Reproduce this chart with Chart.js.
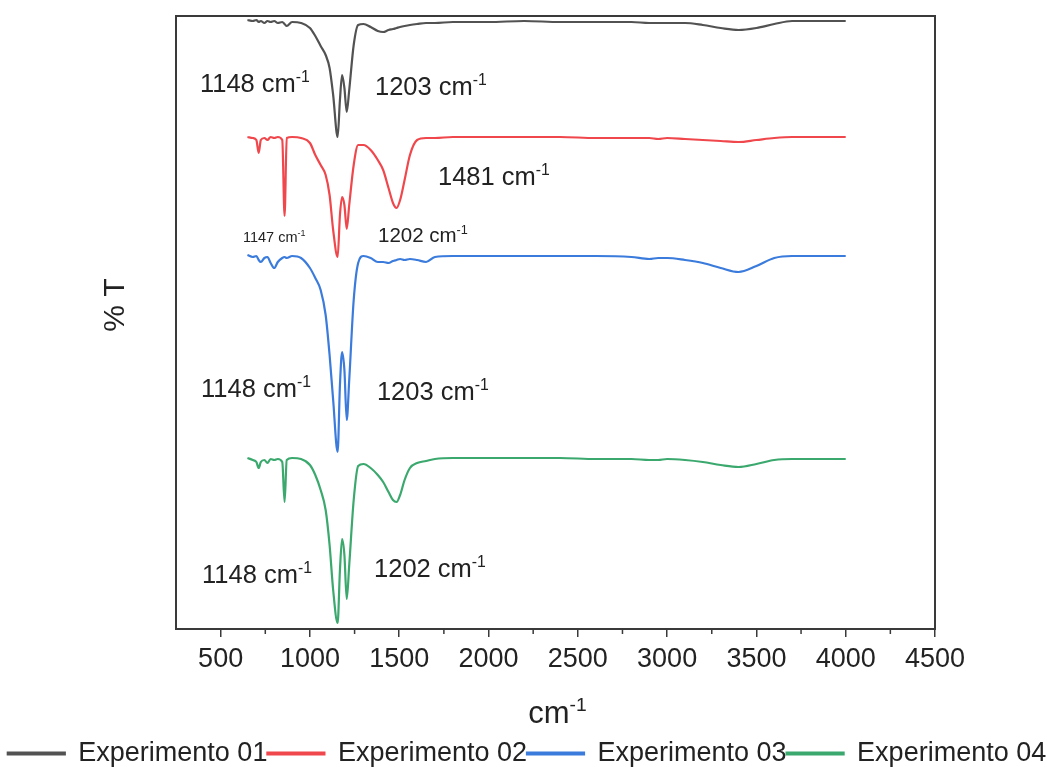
<!DOCTYPE html>
<html>
<head>
<meta charset="utf-8">
<script src="https://cdn.jsdelivr.net/npm/chart.js@4.4.1/dist/chart.umd.min.js"></script>
<style>
  html, body { margin: 0; padding: 0; background: #fff; }
  #wrap { width: 1054px; height: 767px; }
</style>
</head>
<body>
<div id="wrap"><canvas id="ftir"></canvas></div>
<script>
// wavenumber grid (cm-1), shared by the four spectra
const wavenumbers = [650, 680, 700, 713, 725, 745, 762, 780, 800, 820, 845, 858, 870, 900, 950,
  1000, 1030, 1060, 1088, 1110, 1130, 1155, 1168, 1180, 1193, 1206, 1220, 1245, 1270, 1300,
  1340, 1380, 1410, 1440, 1465, 1485, 1505, 1530, 1560, 1600, 1650, 1700, 1800, 2000, 2200,
  2400, 2600, 2800, 2900, 2950, 3000, 3100, 3200, 3300, 3400, 3500, 3600, 3700, 3800, 4000];

// %T (stacked / offset, arbitrary units)
const exp01 = [609, 608, 609, 607, 608, 606, 608, 607, 608, 606, 607, 605, 603, 607, 606,
  601, 593, 583, 574, 561, 534, 492, 529, 554, 541, 517, 539, 584, 604, 605,
  602, 598, 597, 599, 600, 601, 602, 603, 604, 605, 606, 606, 607, 607, 608,
  607, 607, 607, 606, 606, 606, 606, 604, 601, 599, 601, 605, 608, 608, 608];
const exp02 = [492, 491, 489, 476, 489, 491, 489, 492, 491, 492, 489, 413, 491, 492, 491,
  486, 474, 464, 454, 434, 399, 372, 414, 432, 424, 400, 424, 464, 484, 484,
  479, 469, 459, 441, 426, 421, 429, 449, 474, 489, 491, 491, 492, 492, 492,
  492, 491, 491, 491, 490, 491, 490, 489, 488, 487, 489, 491, 492, 492, 492];
const exp03 = [374, 372, 373, 369, 367, 371, 372, 366, 361, 367, 371, 372, 371, 373, 371,
  361, 351, 339, 314, 274, 229, 177, 244, 277, 259, 209, 249, 329, 366, 373,
  371, 367, 367, 366, 368, 369, 370, 369, 370, 369, 367, 372, 373, 373, 373,
  373, 373, 372, 370, 371, 371, 369, 366, 361, 357, 363, 371, 373, 373, 373];
const exp04 = [171, 169, 167, 161, 167, 169, 166, 170, 169, 170, 167, 127, 169, 171, 170,
  164, 154, 139, 119, 84, 39, 6, 59, 90, 74, 30, 64, 129, 163, 165,
  161, 154, 147, 137, 129, 127, 134, 149, 161, 166, 168, 170, 171, 171, 171,
  171, 170, 170, 169, 169, 170, 169, 167, 164, 162, 165, 169, 170, 170, 170];

const seriesNames = ["Experimento 01", "Experimento 02", "Experimento 03", "Experimento 04"];
const seriesValues = [exp01, exp02, exp03, exp04];
const seriesColors = ["#525252", "#ef474c", "#3a7bdc", "#3ba86e"];

const xMin = 250, xMax = 4500;
const majorTicks = [500, 1000, 1500, 2000, 2500, 3000, 3500, 4000, 4500];
const minorTicks = [750, 1250, 1750, 2250, 2750, 3250, 3750, 4250];
const yMin = 0, yMax = 613;

// peak labels: number, left edge (cm-1), baseline (%T units), font size
const peakText = ["1148", "1203", "1481", "1147", "1202", "1148", "1203", "1148", "1202"];
const peakX = [384, 1364, 1717, 625, 1381, 390, 1375, 396, 1359];
const peakY = [537, 534, 444, 387, 387, 232, 229, 46, 52];
const peakSize = [25.5, 25.5, 25.5, 14.5, 20.5, 25.5, 25.5, 25.5, 25.5];

const FONT = '"Liberation Sans", Arial, sans-serif';
const INK = "#222";
const AXIS = "#3a3a3a";

function drawSup(ctx, base, sup, x, y, size, align) {
  ctx.font = `${size}px ${FONT}`;
  const w1 = ctx.measureText(base).width;
  ctx.font = `${size * 0.62}px ${FONT}`;
  const w2 = ctx.measureText(sup).width;
  const x0 = align === "center" ? x - (w1 + w2) / 2 : x;
  ctx.textAlign = "left";
  ctx.textBaseline = "alphabetic";
  ctx.font = `${size}px ${FONT}`;
  ctx.fillText(base, x0, y);
  ctx.font = `${size * 0.62}px ${FONT}`;
  ctx.fillText(sup, x0 + w1, y - size * 0.4);
}

const textPlugin = {
  id: "ftirText",
  afterDatasetsDraw(chart) {
    const { ctx, chartArea, scales } = chart;
    const xs = scales.x, ys = scales.y;
    ctx.save();
    ctx.fillStyle = INK;
    for (let i = 0; i < peakText.length; i++) {
      drawSup(ctx, peakText[i] + " cm", "-1", xs.getPixelForValue(peakX[i]),
        ys.getPixelForValue(peakY[i]), peakSize[i], "left");
    }
    // axis titles
    drawSup(ctx, "cm", "-1", (chartArea.left + chartArea.right) / 2 + 2, 723, 31, "center");
    ctx.save();
    ctx.translate(116, 305);
    ctx.rotate(-Math.PI / 2);
    ctx.font = `30px ${FONT}`;
    ctx.textAlign = "center";
    ctx.textBaseline = "middle";
    ctx.fillText("% T", 0, 0);
    ctx.restore();

    // minor ticks
    ctx.strokeStyle = AXIS;
    ctx.lineWidth = 1.5;
    ctx.beginPath();
    for (const v of minorTicks) {
      const px = xs.getPixelForValue(v);
      ctx.moveTo(px, chartArea.bottom);
      ctx.lineTo(px, chartArea.bottom + 5);
    }
    ctx.stroke();
    ctx.restore();
  }
};

const datasets = seriesNames.map((name, i) => ({
  label: name,
  data: wavenumbers.map((w, j) => ({ x: w, y: seriesValues[i][j] })),
  borderColor: seriesColors[i],
  backgroundColor: seriesColors[i],
  borderWidth: 2.2,
  pointRadius: 0,
  cubicInterpolationMode: "monotone",
  xAxisID: "x",
  yAxisID: "y",
}));

new Chart(document.getElementById("ftir"), {
  type: "line",
  data: { datasets },
  options: {
    responsive: true,
    maintainAspectRatio: false,
    animation: false,
    layout: { padding: { left: 0, right: 0, top: 0, bottom: -10 } },
    scales: {
      x: {
        type: "linear",
        position: "bottom",
        min: xMin,
        max: xMax,
        afterBuildTicks: (s) => { s.ticks = majorTicks.map((v) => ({ value: v })); },
        afterFit: (s) => { s.height = 111; },
        ticks: {
          autoSkip: false,
          maxRotation: 0,
          padding: 6,
          color: INK,
          font: { family: FONT, size: 27 },
          callback: (v) => String(v),
        },
        grid: { drawOnChartArea: false, tickLength: 8, tickColor: AXIS, lineWidth: 1.5 },
        border: { color: AXIS, width: 2 },
        title: { display: false },
      },
      x2: {
        type: "linear",
        position: "top",
        min: xMin,
        max: xMax,
        afterFit: (s) => { s.height = 16; },
        ticks: { display: false },
        grid: { display: false },
        border: { color: AXIS, width: 2 },
      },
      y: {
        type: "linear",
        position: "left",
        min: yMin,
        max: yMax,
        afterFit: (s) => { s.width = 176; },
        ticks: { display: false },
        grid: { display: false },
        border: { color: AXIS, width: 2 },
        title: { display: false },
      },
      y2: {
        type: "linear",
        position: "right",
        min: yMin,
        max: yMax,
        afterFit: (s) => { s.width = 119; },
        ticks: { display: false },
        grid: { display: false },
        border: { color: AXIS, width: 2 },
      },
    },
    plugins: {
      legend: {
        position: "bottom",
        labels: {
          boxWidth: 57,
          boxHeight: 2,
          padding: 0,
          color: INK,
          font: { family: FONT, size: 27 },
        },
      },
      tooltip: { enabled: false },
    },
  },
  plugins: [textPlugin],
});
</script>
</body>
</html>
